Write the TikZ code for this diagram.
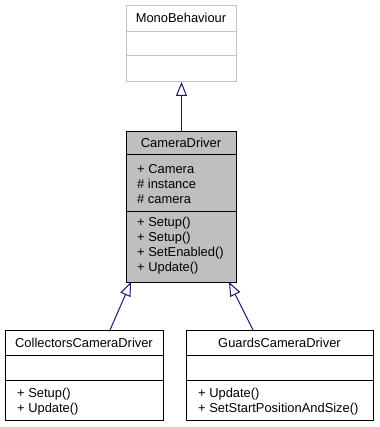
\documentclass[tikz,border=0pt]{standalone}
\usepackage{fontspec}
\setmainfont{Liberation Sans}
\usetikzlibrary{arrows.meta}
\definecolor{edgeblue}{HTML}{191970}
\definecolor{classgray}{HTML}{BFBFBF}
\definecolor{softgray}{HTML}{C4C4C4}
\begin{document}
\begin{tikzpicture}[x=1pt,y=-1pt,
  classbox/.style={draw=black, line width=1pt, fill=white, inner sep=0, anchor=north west},
  txt/.style={font=\fontsize{12.9}{14}\selectfont, inner sep=0},
  member/.style={txt, anchor=base west},
  title/.style={txt, anchor=base},
  inherit/.style={draw=edgeblue, line width=1pt,
    -{Triangle[length=14pt, width=11pt, fill=white]}}]
\useasboundingbox (0,0) rectangle (379,427);

% base class
\node[classbox, draw=softgray, minimum width=110, minimum height=76] (mono) at (126,5) {};
\draw[softgray, line width=1pt] (126,32) -- (236,32) (126,56) -- (236,56);
\node[title] (monot) at (181,22.5) {MonoBehaviour};

% camera driver
\node[classbox, fill=classgray, minimum width=110, minimum height=151] (cam) at (126,131) {};
\draw[line width=1pt] (126,155) -- (236,155) (126,211) -- (236,211);
\node[title] (camt) at (181,148) {CameraDriver};
\node[member] (a1) at (137,174) {+ Camera};
\node[member] (a2) at (137,189) {\# instance};
\node[member] (a3) at (137,204) {\# camera};
\node[member] (m1) at (137,226) {+ Setup()};
\node[member] (m2) at (137,241) {+ Setup()};
\node[member] (m3) at (137,256) {+ SetEnabled()};
\node[member] (m4) at (137,271) {+ Update()};

% derived classes
\node[classbox, minimum width=158, minimum height=90] (coll) at (5,330) {};
\draw[line width=1pt] (5,355) -- (163,355) (5,380) -- (163,380);
\node[title] (collt) at (84,347) {CollectorsCameraDriver};
\node[member] (c1) at (17,397) {+ Setup()};
\node[member] (c2) at (17,412) {+ Update()};

\node[classbox, minimum width=187, minimum height=90] (guard) at (186,330) {};
\draw[line width=1pt] (186,355) -- (373,355) (186,380) -- (373,380);
\node[title] (guardt) at (279.5,347) {GuardsCameraDriver};
\node[member] (g1) at (198,397) {+ Update()};
\node[member] (g2) at (198,412) {+ SetStartPositionAndSize()};

% inheritance edges
\coordinate (collfoot) at (110,330);
\coordinate (guardfoot) at (253,330);
\coordinate (camleft) at (131,282);
\coordinate (camright) at (229,282);
\draw[inherit] (cam.north) -- (mono.south);
\draw[inherit] (collfoot) -- (camleft);
\draw[inherit] (guardfoot) -- (camright);
\end{tikzpicture}
\end{document}
